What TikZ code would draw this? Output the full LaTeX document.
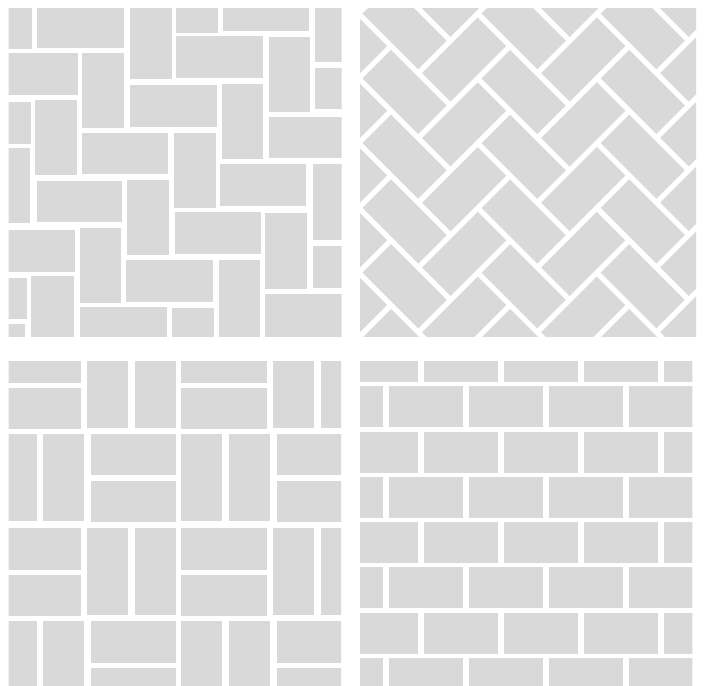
\documentclass[tikz,border=0pt]{standalone}
\usepackage{tikz}
\definecolor{tilegray}{RGB}{217,217,217}
\newcommand\brickL{84.2}
\newcommand\brickW{45.8}
\newcommand\halfgap{2.75}

\begin{document}
\begin{tikzpicture}[
    x=1pt, y=-1pt,
    tile/.style={fill=tilegray, draw=none}
  ]
  \useasboundingbox (0,0) rectangle (705,686);

  % Panel 1 -- straight herringbone
  \begin{scope}
    \clip (8.5,8) rectangle (341.5,336);
    \foreach \xa/\ya/\xb/\yb in {
        37/0/124/48, 176/0/218/33, 223/0/309/31, 176/36/263/78,
        0/53/78/95, 130/85/217/127, 269/117/350/158, 82/133/168/174,
        220/164/306/206, 37/181/122/222, 175/212/261/254, 0/230/75/272,
        126/260/213/302, 265/294/350/345, 80/307/167/345,
        0/0/32/49, 130/0/172/79, 315/0/350/62, 82/53/124/128,
        269/37/310/112, 315/68/350/109, 0/102/31/144, 35/100/77/175,
        0/148/30/223, 222/84/263/159, 174/133/216/208, 127/180/169/255,
        313/164/350/240, 80/228/121/303, 265/213/307/289, 313/246/350/288,
        219/260/260/345, 31/276/74/345, 0/278/27/319, 0/324/25/345,
        172/308/214/345}
      \fill[tile] (\xa,\ya) rectangle (\xb,\yb);
  \end{scope}

  % Panel 2 -- diagonal herringbone
  \begin{scope}
    \clip (360,8) rectangle (696,336);
    \begin{scope}[shift={(331.5,170.3)},
        x={(0.7071pt,0.7071pt)}, y={(-0.7071pt,0.7071pt)}]
      \foreach \m in {-4,...,4}
        \foreach \n in {-1,...,4} {
          \pgfmathsetmacro\bx{\m*\brickW+\n*\brickL}
          \pgfmathsetmacro\by{\m*\brickW-\n*\brickL}
          % flat brick
          \fill[tile] ({\bx+\halfgap},{\by+\halfgap})
            -- ({\bx+\brickL-\halfgap},{\by+\halfgap})
            -- ({\bx+\brickL-\halfgap},{\by+\brickW-\halfgap})
            -- ({\bx+\halfgap},{\by+\brickW-\halfgap}) -- cycle;
          % standing brick
          \fill[tile] ({\bx+\brickL+\halfgap},{\by+\brickW-\brickL+\halfgap})
            -- ({\bx+\brickL+\brickW-\halfgap},{\by+\brickW-\brickL+\halfgap})
            -- ({\bx+\brickL+\brickW-\halfgap},{\by+\brickW-\halfgap})
            -- ({\bx+\brickL+\halfgap},{\by+\brickW-\halfgap}) -- cycle;
        }
    \end{scope}
  \end{scope}

  % Panel 3 -- basket weave
  \begin{scope}
    \clip (8.5,361.5) rectangle (341,686);
    \foreach \xa/\ya/\xb/\yb in {
        0/341/81/383, 0/388/81/429, 87/341/128/428, 135/341/176/428,
        181/341/267/383, 181/388/267/429, 273/341/314/428, 321/341/362/428,
        0/434/37/521, 43/434/84/521, 91/434/176/475, 91/481/176/522,
        181/434/222/521, 229/434/270/521, 277/434/350/475, 277/481/350/522,
        0/528/81/570, 0/575/81/616, 87/528/128/615, 135/528/176/615,
        181/528/267/570, 181/575/267/616, 273/528/314/615, 321/528/362/615,
        0/621/37/700, 43/621/84/700, 91/621/176/663, 91/668/176/700,
        181/621/222/700, 229/621/270/700, 277/621/350/663, 277/668/350/700}
      \fill[tile] (\xa,\ya) rectangle (\xb,\yb);
  \end{scope}

  % Panel 4 -- running bond
  \begin{scope}
    \clip (360,361.5) rectangle (692.3,686);
    \foreach \r in {0,...,7} {
      \pgfmathsetmacro\rowy{341+45.25*\r}
      \pgfmathsetmacro\rowx{ifthenelse(mod(\r,2)==0,344,309)}
      \foreach \k in {0,...,4}
        \fill[tile] ({\rowx+80*\k},\rowy) rectangle ++(74,41);
    }
  \end{scope}
\end{tikzpicture}
\end{document}
